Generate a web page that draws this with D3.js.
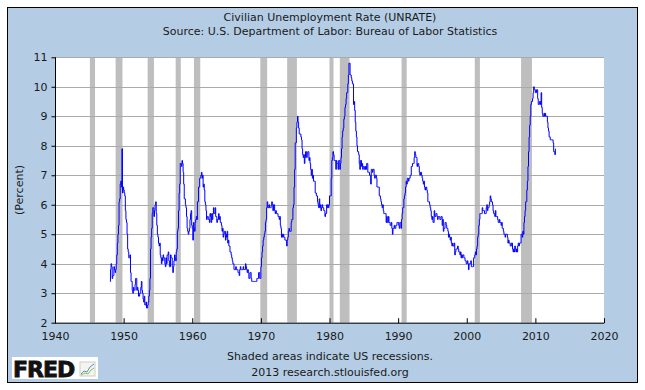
<!DOCTYPE html>
<html><head><meta charset="utf-8">
<script src="https://cdn.jsdelivr.net/npm/d3@7"></script>
<style>body{margin:0;background:#fff}svg{display:block}text{font-family:"DejaVu Sans",Verdana,sans-serif;fill:#1a1a1a}</style>
</head><body><svg id="c" width="645" height="390"></svg>
<script>
const titleText = "Civilian Unemployment Rate (UNRATE)";
const sourceText = "Source: U.S. Department of Labor: Bureau of Labor Statistics";
const yLabel = "(Percent)";
const footer1 = "Shaded areas indicate US recessions.";
const footer2 = "2013 research.stlouisfed.org";
const xTicks = [1940,1950,1960,1970,1980,1990,2000,2010,2020];
const yTicks = [2,3,4,5,6,7,8,9,10,11];
const startYear = 1948;
// Monthly unemployment rate, one row per year (Jan..Dec), 1948-2012
const rates = [
"3.4 3.8 4.0 3.9 3.5 3.6 3.6 3.9 3.8 3.7 3.8 4.0",
"4.3 4.7 5.0 5.3 6.1 6.2 6.7 6.8 6.6 7.9 6.4 6.6",
"6.5 6.4 6.3 5.8 5.5 5.4 5.0 4.5 4.4 4.2 4.2 4.3",
"3.7 3.4 3.4 3.1 3.0 3.2 3.1 3.1 3.3 3.5 3.5 3.1",
"3.2 3.1 2.9 2.9 3.0 3.0 3.2 3.4 3.1 3.0 2.8 2.7",
"2.9 2.6 2.6 2.7 2.5 2.5 2.6 2.7 2.9 3.1 3.5 4.5",
"4.9 5.2 5.7 5.9 5.9 5.6 5.8 6.0 6.1 5.7 5.3 5.0",
"4.9 4.7 4.6 4.7 4.3 4.2 4.0 4.2 4.1 4.3 4.2 4.2",
"4.0 3.9 4.2 4.0 4.3 4.3 4.4 4.1 3.9 3.9 4.3 4.2",
"4.2 3.9 3.7 3.9 4.1 4.3 4.2 4.1 4.4 4.5 5.1 5.2",
"5.8 6.4 6.7 7.4 7.4 7.3 7.5 7.4 7.1 6.7 6.2 6.2",
"6.0 5.9 5.6 5.2 5.1 5.0 5.1 5.2 5.5 5.7 5.8 5.3",
"5.2 4.8 5.4 5.2 5.1 5.4 5.5 5.6 5.5 6.1 6.1 6.6",
"6.6 6.9 6.9 7.0 7.1 6.9 7.0 6.6 6.7 6.5 6.1 6.0",
"5.8 5.5 5.6 5.6 5.5 5.5 5.4 5.7 5.6 5.4 5.7 5.5",
"5.7 5.9 5.7 5.7 5.9 5.6 5.6 5.4 5.5 5.5 5.7 5.5",
"5.6 5.4 5.4 5.3 5.1 5.2 4.9 5.0 5.1 5.1 4.8 5.0",
"4.9 5.1 4.7 4.8 4.6 4.6 4.4 4.4 4.3 4.2 4.1 4.0",
"4.0 3.8 3.8 3.8 3.9 3.8 3.8 3.8 3.7 3.7 3.6 3.8",
"3.9 3.8 3.8 3.8 3.8 3.9 3.8 3.8 3.8 4.0 3.9 3.8",
"3.7 3.8 3.7 3.5 3.5 3.7 3.7 3.5 3.4 3.4 3.4 3.4",
"3.4 3.4 3.4 3.4 3.4 3.5 3.5 3.5 3.7 3.7 3.5 3.5",
"3.9 4.2 4.4 4.6 4.8 4.9 5.0 5.1 5.4 5.5 5.9 6.1",
"5.9 5.9 6.0 5.9 5.9 5.9 6.0 6.1 6.0 5.8 6.0 6.0",
"5.8 5.7 5.8 5.7 5.7 5.7 5.6 5.6 5.5 5.6 5.3 5.2",
"4.9 5.0 4.9 5.0 4.9 4.9 4.8 4.8 4.8 4.6 4.8 4.9",
"5.1 5.2 5.1 5.1 5.1 5.4 5.5 5.5 5.9 6.0 6.6 7.2",
"8.1 8.1 8.6 8.8 9.0 8.8 8.6 8.4 8.4 8.4 8.3 8.2",
"7.9 7.7 7.6 7.7 7.4 7.6 7.8 7.8 7.6 7.7 7.8 7.8",
"7.5 7.6 7.4 7.2 7.0 7.2 6.9 7.0 6.8 6.8 6.8 6.4",
"6.4 6.3 6.3 6.1 6.0 5.9 6.2 5.9 6.0 5.8 5.9 6.0",
"5.9 5.9 5.8 5.8 5.6 5.7 5.7 6.0 5.9 6.0 5.9 6.0",
"6.3 6.3 6.3 6.9 7.5 7.6 7.8 7.7 7.5 7.5 7.5 7.2",
"7.5 7.4 7.4 7.2 7.5 7.5 7.2 7.4 7.6 7.9 8.3 8.5",
"8.6 8.9 9.0 9.3 9.4 9.6 9.8 9.8 10.1 10.4 10.8 10.8",
"10.4 10.4 10.3 10.2 10.1 10.1 9.4 9.5 9.2 8.8 8.5 8.3",
"8.0 7.8 7.8 7.7 7.4 7.2 7.5 7.5 7.3 7.4 7.2 7.3",
"7.3 7.2 7.2 7.3 7.2 7.4 7.4 7.1 7.1 7.1 7.0 7.0",
"6.7 7.2 7.2 7.1 7.2 7.2 7.0 6.9 7.0 7.0 6.9 6.6",
"6.6 6.6 6.6 6.3 6.3 6.2 6.1 6.0 5.9 6.0 5.8 5.7",
"5.7 5.7 5.7 5.4 5.6 5.4 5.4 5.6 5.4 5.4 5.3 5.3",
"5.4 5.2 5.0 5.2 5.2 5.3 5.2 5.2 5.3 5.3 5.4 5.4",
"5.4 5.3 5.2 5.4 5.4 5.2 5.5 5.7 5.9 5.9 6.2 6.3",
"6.4 6.6 6.8 6.7 6.9 6.9 6.8 6.9 6.9 7.0 7.0 7.3",
"7.3 7.4 7.4 7.4 7.6 7.8 7.7 7.6 7.6 7.3 7.4 7.4",
"7.3 7.1 7.0 7.1 7.1 7.0 6.9 6.8 6.7 6.8 6.6 6.5",
"6.6 6.6 6.5 6.4 6.1 6.1 6.1 6.0 5.9 5.8 5.6 5.5",
"5.6 5.4 5.4 5.8 5.6 5.6 5.7 5.7 5.6 5.5 5.6 5.6",
"5.6 5.5 5.5 5.6 5.6 5.3 5.5 5.1 5.2 5.2 5.4 5.4",
"5.3 5.2 5.2 5.1 4.9 5.0 4.9 4.8 4.9 4.7 4.6 4.7",
"4.6 4.6 4.7 4.3 4.4 4.5 4.5 4.5 4.6 4.5 4.4 4.4",
"4.3 4.4 4.2 4.3 4.2 4.3 4.3 4.2 4.2 4.1 4.1 4.0",
"4.0 4.1 4.0 3.8 4.0 4.0 4.0 4.1 3.9 3.9 3.9 3.9",
"4.2 4.2 4.3 4.4 4.3 4.5 4.6 4.9 5.0 5.3 5.5 5.7",
"5.7 5.7 5.7 5.9 5.8 5.8 5.8 5.7 5.7 5.7 5.9 6.0",
"5.8 5.9 5.9 6.0 6.1 6.3 6.2 6.1 6.1 6.0 5.8 5.7",
"5.7 5.6 5.8 5.6 5.6 5.6 5.5 5.4 5.4 5.5 5.4 5.4",
"5.3 5.4 5.2 5.2 5.1 5.0 5.0 4.9 5.0 5.0 5.0 4.9",
"4.7 4.8 4.7 4.7 4.6 4.6 4.7 4.7 4.5 4.4 4.5 4.4",
"4.6 4.5 4.4 4.5 4.4 4.6 4.7 4.6 4.7 4.7 4.7 5.0",
"5.0 4.9 5.1 5.0 5.4 5.6 5.8 6.1 6.1 6.5 6.8 7.3",
"7.8 8.3 8.7 9.0 9.4 9.5 9.5 9.6 9.8 10.0 9.9 9.9",
"9.8 9.8 9.9 9.9 9.6 9.4 9.4 9.5 9.5 9.4 9.8 9.3",
"9.1 9.0 9.0 9.1 9.0 9.1 9.0 9.0 9.0 8.8 8.6 8.5",
"8.3 8.3 8.2 8.2 8.2 8.2 8.2 8.1 7.8 7.8 7.7 7.9"
];
// NBER recessions [start, end] as "YYYY-MM"
const recessionStarts = ["1945-02","1948-11","1953-07","1957-08","1960-04","1969-12","1973-11","1980-01","1981-07","1990-07","2001-03","2007-12"];
const recessionEnds   = ["1945-10","1949-10","1954-05","1958-04","1961-02","1970-11","1975-03","1980-07","1982-11","1991-03","2001-11","2009-06"];

const svg = d3.select("#c");
const L = 55, R = 604, T = 57.3, B = 322.7;
const x = d3.scaleLinear().domain([1940, 2020]).range([L, R]);
const y = d3.scaleLinear().domain([2, 11]).range([B, T]);
const ym = s => { const [a, b] = s.split("-").map(Number); return a + (b - 1) / 12; };

const data = [];
rates.forEach((row, i) => row.split(" ").forEach((v, m) => data.push({ t: startYear + i + m / 12, v: +v })));

svg.append("rect").attr("x", 7.5).attr("y", 7.5).attr("width", 630).attr("height", 375)
  .attr("fill", "#b4cde5").attr("stroke", "#000").attr("stroke-width", 1);
svg.append("rect").attr("x", L).attr("y", T).attr("width", R - L).attr("height", B - T).attr("fill", "#fff");

svg.append("g").selectAll("rect").data(recessionStarts.map((s, i) => [ym(s), ym(recessionEnds[i]) + 1 / 12]))
  .join("rect").attr("x", d => x(d[0])).attr("width", d => x(d[1]) - x(d[0]))
  .attr("y", T).attr("height", B - T).attr("fill", "#bebebe");

svg.append("g").selectAll("line").data(yTicks.filter(v => v > 2)).join("line")
  .attr("x1", L).attr("x2", R).attr("y1", d => Math.round(y(d)) + 0.5).attr("y2", d => Math.round(y(d)) + 0.5)
  .attr("stroke", "#aaaaaa").attr("stroke-width", 1);

const line = d3.line().x(d => x(d.t)).y(d => y(d.v)).curve(d3.curveStepAfter);
svg.append("path").datum(data).attr("d", line).attr("fill", "none").attr("stroke", "#0000ff").attr("stroke-width", 1);

// left axis
const ya = svg.append("g").attr("transform", `translate(${L + 0.5},0)`)
  .call(d3.axisLeft(y).tickValues(yTicks).tickSize(4).tickPadding(4).tickFormat(d3.format("d")));
ya.select(".domain").attr("stroke", "#000").attr("d", `M0,${T}V${B}`);
ya.selectAll(".tick line").attr("stroke", "#000");
ya.selectAll("text").attr("font-family", "DejaVu Sans").attr("font-size", 11).attr("fill", "#1a1a1a");

// bottom axis
const xa = svg.append("g").attr("transform", `translate(0,${B + 0.5})`)
  .call(d3.axisBottom(x).tickValues(xTicks).tickSize(0).tickPadding(9).tickFormat(d3.format("d")));
xa.select(".domain").attr("stroke", "#000").attr("d", `M${L},0H${R}`);
xa.selectAll(".tick").append("line").attr("y1", 0).attr("y2", -5).attr("stroke", "#000");
xa.selectAll("text").attr("font-family", "DejaVu Sans").attr("font-size", 11).attr("fill", "#1a1a1a");

svg.append("text").attr("x", 330).attr("y", 21).attr("text-anchor", "middle").attr("font-size", 11).text(titleText);
svg.append("text").attr("x", 330).attr("y", 35).attr("text-anchor", "middle").attr("font-size", 11).text(sourceText);
svg.append("text").attr("transform", "translate(23,190) rotate(-90)").attr("text-anchor", "middle").attr("font-size", 11).text(yLabel);
svg.append("text").attr("x", 330).attr("y", 360).attr("text-anchor", "middle").attr("font-size", 11).text(footer1);
svg.append("text").attr("x", 330).attr("y", 376).attr("text-anchor", "middle").attr("font-size", 11).text(footer2);

// FRED logo
const logo = svg.append("g");
logo.append("rect").attr("x", 12).attr("y", 357).attr("width", 86).attr("height", 22).attr("fill", "#fff");
logo.append("text").attr("x", 13).attr("y", 377).attr("font-family", "Liberation Sans, Arial").attr("font-weight", 900)
  .attr("font-size", 22).attr("letter-spacing", -1).style("fill", "#111").style("stroke", "#111").style("stroke-width", 0.8).text("FRED");
logo.append("rect").attr("x", 80).attr("y", 362).attr("width", 15).attr("height", 14).attr("fill", "#f4f4ee").attr("stroke", "#ccc");
logo.append("polyline").attr("points", "81,374 84,371 87,372 90,367 94,364").attr("fill", "none").attr("stroke", "#5a8fd0").attr("stroke-width", 1);
logo.append("polyline").attr("points", "81,375 85,373 88,374 91,370 94,368").attr("fill", "none").attr("stroke", "#8cbf4a").attr("stroke-width", 1);
</script></body></html>
